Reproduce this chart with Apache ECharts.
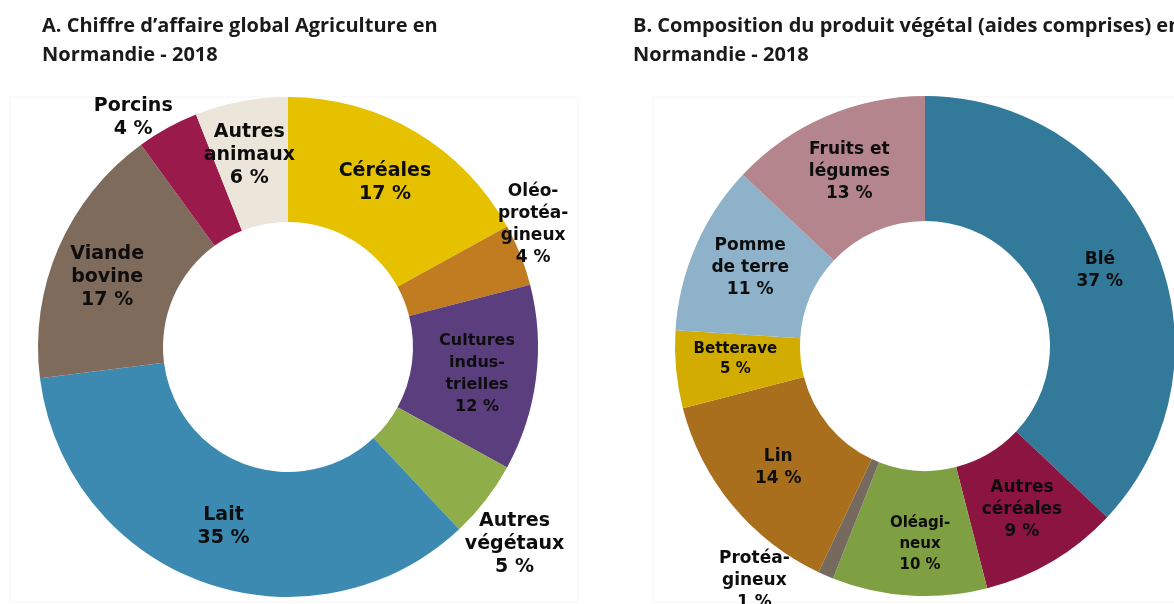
<!DOCTYPE html>
<html>
<head>
<meta charset="utf-8">
<script src="https://cdn.jsdelivr.net/npm/echarts@6/dist/echarts.min.js"></script>
<style>
  html, body { margin: 0; padding: 0; background: #fff; }
  #chart { width: 1174px; height: 604px; }
</style>
</head>
<body>
<div id="chart"></div>
<script>
// A. Chiffre d'affaire global Agriculture
const animalLabels = ['Céréales', 'Oléo-\nprotéa-\ngineux', 'Cultures\nindus-\ntrielles', 'Autres\nvégétaux', 'Lait', 'Viande\nbovine', 'Porcins', 'Autres\nanimaux'];
const animalValues = [17, 4, 12, 5, 35, 17, 4, 6];
const animalColors = ['#e5c100', '#c17c22', '#5a3e7e', '#8fae4a', '#3c8ab1', '#7e6b5c', '#9a1a4b', '#ebe6d9'];

// B. Composition du produit végétal
const vegLabels = ['Blé', 'Autres\ncéréales', 'Oléagi-\nneux', 'Protéa-\ngineux', 'Lin', 'Betterave', 'Pomme\nde terre', 'Fruits et\nlégumes'];
const vegValues = [37, 9, 10, 1, 14, 5, 11, 13];
const vegColors = ['#32799a', '#8c1440', '#7e9f42', '#766a5f', '#a96f1d', '#d2ad00', '#8eb2c9', '#b4858d'];

// label tweaks (offsets from the slice middle, font sizes)
const animalLabelStyle = {
    1: { offset: [68, -52], fontSize: 17, lineHeight: 22 },
    2: { offset: [0, 3], fontSize: 16, lineHeight: 22 },
    3: { offset: [76, 80] },
    5: { offset: [-6, 6] },
    6: { offset: [-63, -63] },
    7: { offset: [-3, -5] }
};
const vegLabelStyle = {
    2: { offset: [7, 8], fontSize: 15, lineHeight: 21 },
    3: { offset: [-95, 60] },
    5: { offset: [0, -5], fontSize: 15, lineHeight: 20 },
    6: { offset: [0, -3] }
};

const buildData = (labels, values, colors, styles) => labels.map((name, i) => {
    const item = { name: name, value: values[i], itemStyle: { color: colors[i] } };
    if (styles[i]) item.label = styles[i];
    return item;
});

const labelBase = (size, lh) => ({
    show: true,
    position: 'inside',
    formatter: '{b}\n{c} %',
    color: '#0d0d0d',
    fontFamily: 'DejaVu Sans',
    fontWeight: 'bold',
    fontSize: size,
    lineHeight: lh,
    align: 'center'
});

const titleStyle = {
    color: '#1a1a1a',
    fontFamily: 'Open Sans',
    fontWeight: 'bold',
    fontSize: 20,
    lineHeight: 29
};

const chart = echarts.init(document.getElementById('chart'));
chart.setOption({
    animation: false,
    backgroundColor: '#fff',
    title: [
        { text: 'A. Chiffre d’affaire global Agriculture en\nNormandie - 2018', left: 37, top: 7, textStyle: titleStyle },
        { text: 'B. Composition du produit végétal (aides comprises) en\nNormandie - 2018', left: 628, top: 7, textStyle: titleStyle }
    ],
    graphic: [
        { type: 'rect', shape: { x: 10, y: 97, width: 568, height: 505 }, style: { fill: 'none', stroke: '#f5f5f5', lineWidth: 1 }, silent: true },
        { type: 'rect', shape: { x: 653, y: 97, width: 530, height: 505 }, style: { fill: 'none', stroke: '#f5f5f5', lineWidth: 1 }, silent: true }
    ],
    series: [
        {
            type: 'pie',
            center: [288, 347],
            radius: [125, 250],
            startAngle: 90,
            clockwise: true,
            silent: true,
            label: labelBase(19, 23),
            labelLine: { show: false },
            data: buildData(animalLabels, animalValues, animalColors, animalLabelStyle)
        },
        {
            type: 'pie',
            center: [925, 346],
            radius: [125, 250],
            startAngle: 90,
            clockwise: true,
            silent: true,
            label: labelBase(17, 22),
            labelLine: { show: false },
            data: buildData(vegLabels, vegValues, vegColors, vegLabelStyle)
        }
    ]
});
</script>
</body>
</html>
